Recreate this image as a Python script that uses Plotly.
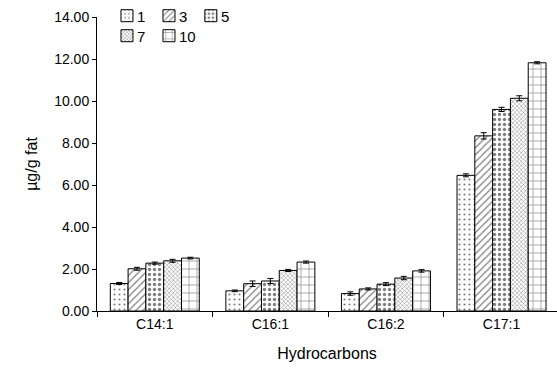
import plotly.graph_objects as go

categories = ["C14:1", "C16:1", "C16:2", "C17:1"]
series_names = ["1", "3", "5", "7", "10"]
values = {
    "1": [1.31, 0.96, 0.83, 6.46],
    "3": [2.01, 1.30, 1.05, 8.34],
    "5": [2.28, 1.43, 1.28, 9.60],
    "7": [2.39, 1.93, 1.57, 10.13],
    "10": [2.52, 2.33, 1.91, 11.82],
}
errors = {
    "1": [0.05, 0.04, 0.08, 0.07],
    "3": [0.07, 0.13, 0.05, 0.15],
    "5": [0.05, 0.12, 0.07, 0.10],
    "7": [0.07, 0.05, 0.08, 0.12],
    "10": [0.04, 0.05, 0.06, 0.05],
}
patterns = {
    "1": dict(shape=".", size=5, solidity=0.15),
    "3": dict(shape="/", size=5, solidity=0.25),
    "5": dict(shape=".", size=5, solidity=0.35),
    "7": dict(shape="x", size=3, solidity=0.3),
    "10": dict(shape="+", size=8, solidity=0.15),
}
# legend placement (paper coords): (legend x, row y, label x)
legend_pos = {
    "1": (0.0217, 1.003, 0.083),
    "3": (0.113, 1.003, 0.174),
    "5": (0.204, 1.003, 0.265),
    "7": (0.0217, 0.935, 0.083),
    "10": (0.113, 0.935, 0.174),
}

fig = go.Figure()
legend_layout = {}
annotations = []
for i, s in enumerate(series_names):
    lname = "legend" if i == 0 else f"legend{i + 1}"
    fig.add_trace(go.Bar(
        x=categories, y=values[s], name="",
        marker=dict(color="white", line=dict(color="black", width=1),
                    pattern=dict(fgcolor="black", bgcolor="white", **patterns[s])),
        error_y=dict(type="data", array=errors[s], color="black", thickness=1, width=3),
        legend=lname, showlegend=True, hovertext=s,
    ))
    lx, ly, tx = legend_pos[s]
    legend_layout[lname] = dict(x=lx, y=ly, xanchor="left", yanchor="middle",
                                bgcolor="rgba(0,0,0,0)", itemwidth=30,
                                font=dict(size=14))
    annotations.append(dict(x=tx, y=ly, xref="paper", yref="paper", text=s,
                            showarrow=False, xanchor="left", yanchor="middle",
                            font=dict(size=15)))

fig.update_layout(
    width=557, height=373,
    margin=dict(l=97, r=0, t=17, b=62),
    paper_bgcolor="white", plot_bgcolor="white",
    font=dict(family="Liberation Sans, Arial, sans-serif", size=14, color="black"),
    barmode="group", bargap=0.23, bargroupgap=0,
    showlegend=True,
    annotations=annotations,
    **legend_layout,
)
fig.update_xaxes(
    type="category", range=[-0.5, 3.48], autorange=False,
    showline=True, linecolor="black", linewidth=1,
    ticks="outside", tickson="boundaries", ticklen=5, tickcolor="black",
    tickfont=dict(size=14),
    title=dict(text="Hydrocarbons", font=dict(size=16), standoff=17),
    showgrid=False,
)
fig.update_yaxes(
    range=[0, 14], dtick=2, tickformat=".2f",
    showline=True, linecolor="black", linewidth=1,
    ticks="outside", ticklen=4, tickcolor="black",
    tickfont=dict(size=14),
    title=dict(text="µg/g fat", font=dict(size=16), standoff=12),
    showgrid=False, zeroline=False,
)

fig.write_html("out.html")
